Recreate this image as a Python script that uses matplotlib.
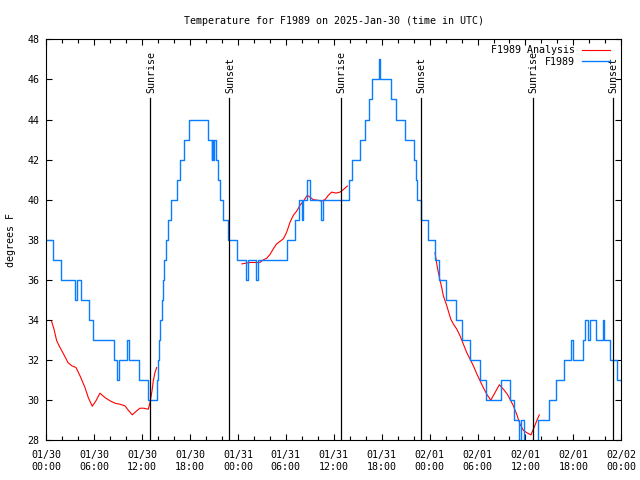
import numpy as np
import matplotlib
matplotlib.use('Agg')
import matplotlib.pyplot as plt

plt.rcParams['font.family'] = 'DejaVu Sans Mono'
plt.rcParams['font.size'] = 7.2

# hours since 2025-01-30 00:00 UTC, observed temperature (deg F), held until next time
obs_hours = [0.0, 0.85, 1.85, 3.55, 3.9, 4.35, 5.3, 5.85, 8.5, 8.9, 9.1, 10.1, 10.35,
             11.6, 12.7, 13.85, 13.95, 14.1, 14.25, 14.45, 14.6, 14.8, 15.0, 15.25,
             15.6, 16.4, 16.8, 17.3, 17.9, 20.3, 20.7, 20.8, 20.9, 21.0, 21.2, 21.5,
             21.8, 22.1, 22.7, 23.85, 24.95, 25.2, 26.2, 26.5, 30.1, 31.15, 31.6, 32.0,
             32.15, 32.7, 33.05, 34.45, 34.7, 37.95, 38.3, 39.3, 39.9, 40.45, 40.8,
             41.6, 41.8, 43.2, 43.85, 44.9, 46.0, 46.25, 46.45, 46.9, 47.8, 48.7, 49.2,
             50.0, 51.3, 52.1, 53.1, 54.3, 55.05, 56.9, 58.1, 58.55, 59.25, 59.5, 59.8,
             61.55, 62.9, 63.8, 64.8, 65.65, 66.0, 67.25, 67.4, 67.85, 68.05, 68.85,
             69.65, 69.85, 70.6, 71.45, 72.0]
obs_temps = [38, 37, 36, 35, 36, 35, 34, 33, 32, 31, 32, 33, 32,
             31, 30, 31, 32, 33, 34, 35, 36, 37, 38, 39,
             40, 41, 42, 43, 44, 43, 42, 43, 42, 43, 42, 41,
             40, 39, 38, 37, 36, 37, 36, 37, 38, 39, 40, 39,
             40, 41, 40, 39, 40, 41, 42, 43, 44, 45, 46,
             47, 46, 45, 44, 43, 42, 41, 40, 39, 38, 37, 36,
             35, 34, 33, 32, 31, 30, 31, 30, 29, 27, 29, 27,
             29, 30, 31, 32, 33, 32, 33, 34, 33, 34, 33,
             34, 33, 32, 31, 31]

# analysis series, NaN separates the three runs
ana_hours = [0.67, 0.96, 1.3, 1.72, 2.13, 2.72, 3.18, 3.72, 4.22, 4.85, 5.26, 5.76, 6.22,
             6.72, 7.35, 7.98, 8.6, 9.23, 9.85, 10.27, 10.77, 11.32, 11.73, 12.23, 12.77,
             12.99, 13.24, 13.4, 13.61, 13.82, np.nan,
             24.5, 25.5, 26.13, 26.76, 27.17, 27.6, 28.01, 28.43, 28.85, 29.26, 29.68,
             30.01, 30.18, 30.52, 30.93, 31.35, 31.77, 32.27, 32.68, 33.02, 33.43, 34.06,
             34.36, 34.9, 35.31, 35.74, 36.28, 36.78, 37.19, 37.69, np.nan,
             48.67, 48.8, 48.96, 49.13, 49.3, 49.51, 49.71, 49.92, 50.14, 50.39, 50.64,
             50.97, 51.39, 51.8, 52.22, 52.64, 53.06, 53.47, 53.89, 54.31, 54.72, 55.15,
             55.65, 56.19, 56.73, 57.23, 57.73, 58.06, 58.48, 58.9, 59.32, 59.73, 60.16,
             60.69, 60.98, 61.41, 61.73]
ana_temps = [33.93, 33.55, 32.97, 32.63, 32.33, 31.88, 31.72, 31.63, 31.22, 30.63, 30.13,
             29.7, 29.97, 30.35, 30.13, 29.97, 29.85, 29.8, 29.72, 29.5, 29.27, 29.47,
             29.6, 29.6, 29.55, 29.88, 30.47, 30.97, 31.38, 31.63, np.nan,
             36.8, 36.87, 36.87, 36.87, 37.0, 37.08, 37.27, 37.55, 37.8, 37.92, 38.05,
             38.3, 38.47, 38.88, 39.22, 39.43, 39.72, 39.97, 40.22, 40.13, 40.0, 39.97,
             39.93, 40.0, 40.22, 40.38, 40.33, 40.38, 40.5, 40.68, np.nan,
             37.35, 37.05, 36.63, 36.3, 35.97, 35.63, 35.22, 34.97, 34.72, 34.38, 34.05,
             33.8, 33.55, 33.22, 32.8, 32.38, 32.05, 31.72, 31.33, 30.97, 30.63, 30.3,
             30.0, 30.38, 30.77, 30.55, 30.3, 30.05, 29.72, 29.3, 28.8, 28.5, 28.38,
             28.27, 28.55, 28.97, 29.27]

sunrise_hours = [13.05, 36.9, 60.9]
sunset_hours = [22.9, 46.9, 70.9]

tick_hours = list(range(0, 73, 6))
tick_labels = ['01/30\n00:00', '01/30\n06:00', '01/30\n12:00', '01/30\n18:00',
               '01/31\n00:00', '01/31\n06:00', '01/31\n12:00', '01/31\n18:00',
               '02/01\n00:00', '02/01\n06:00', '02/01\n12:00', '02/01\n18:00',
               '02/02\n00:00']

fig = plt.figure(figsize=(6.4, 4.8), dpi=100)
ax = fig.add_axes([0.0723, 0.0827, 0.8985, 0.8354])

ax.plot(ana_hours, ana_temps, color='#ff0000', lw=0.8, label='F1989 Analysis')
ax.plot(obs_hours, obs_temps, color='#0a7cff', lw=1.0, drawstyle='steps-post', label='F1989')

for h in sunrise_hours:
    ax.plot([h, h], [28, 45.05], color='black', lw=0.9)
    ax.text(h + 0.1, 45.3, 'Sunrise', rotation=90, ha='center', va='bottom')
for h in sunset_hours:
    ax.plot([h, h], [28, 45.05], color='black', lw=0.9)
    ax.text(h + 0.1, 45.3, 'Sunset', rotation=90, ha='center', va='bottom')

ax.set_xlim(0, 72)
ax.set_ylim(28, 48)
ax.set_xticks(tick_hours)
ax.set_xticklabels(tick_labels)
ax.set_xticks(range(0, 73, 2), minor=True)
ax.set_yticks(range(28, 49, 2))
ax.tick_params(which='both', direction='in', top=True, right=True, width=0.8)
ax.tick_params(which='major', length=4.5)
ax.tick_params(which='minor', length=3)
ax.tick_params(axis='x', which='major', pad=7)
ax.tick_params(axis='y', which='major', pad=5)
for s in ax.spines.values():
    s.set_linewidth(0.8)

ax.set_ylabel('degrees F', labelpad=8)
ax.set_title('Temperature for F1989 on 2025-Jan-30 (time in UTC)', fontsize=7.2, pad=11)

ax.legend(loc='upper right', bbox_to_anchor=(0.98, 0.985), frameon=False,
          markerfirst=False, handlelength=2.8, handletextpad=0.7,
          labelspacing=0.15, borderpad=0, borderaxespad=0)

plt.savefig('out.png')
